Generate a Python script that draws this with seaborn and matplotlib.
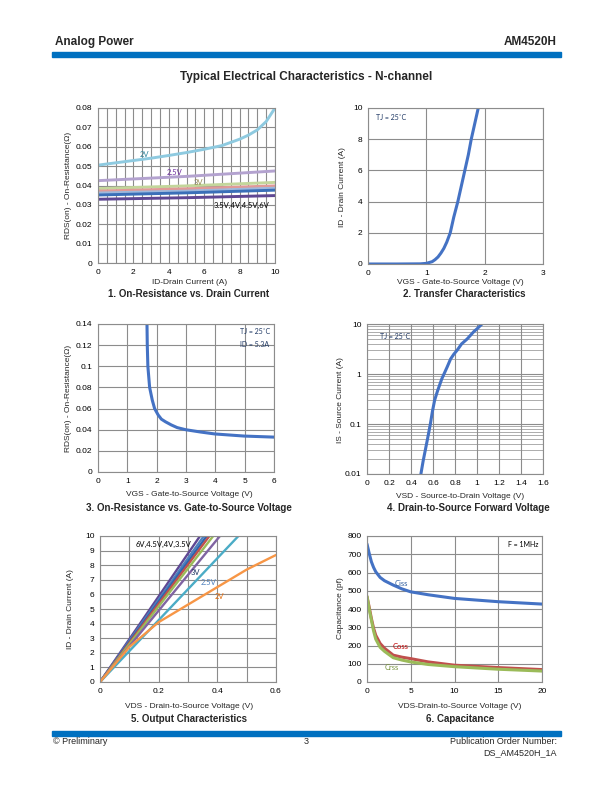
import matplotlib
matplotlib.use("Agg")
import matplotlib.pyplot as plt
import matplotlib.ticker as ticker
from matplotlib.patches import Rectangle
import seaborn as sns

# page size in pixels
W, H = 612, 792

# 1. on-resistance vs drain current
id_drain = [0, 1, 2, 3, 4, 5, 6, 7, 8, 8.5, 9, 9.5, 10]
rds_2v = [0.0505, 0.0517, 0.0529, 0.0541, 0.0555, 0.0570, 0.0587, 0.0606, 0.0639, 0.0660, 0.0687, 0.0730, 0.0800]
id_short = [0, 5, 10]
rds_25v = [0.0425, 0.0447, 0.0475]
rds_3v = [0.0384, 0.0398, 0.0416]
rds_35v = [0.0371, 0.0383, 0.0398]
rds_4v = [0.0361, 0.0371, 0.0386]
rds_45v = [0.0351, 0.0362, 0.0376]
rds_6v = [0.0329, 0.0337, 0.0348]

# 2. transfer characteristics
vgs_t = [0, 0.5, 0.9, 1.0, 1.1, 1.15, 1.2, 1.25, 1.3, 1.35, 1.41, 1.47, 1.54, 1.6, 1.66, 1.72, 1.77, 1.83, 1.89]
id_t = [0, 0, 0.01, 0.04, 0.15, 0.28, 0.45, 0.7, 1.0, 1.4, 2.0, 3.0, 4.0, 5.0, 6.0, 7.0, 8.0, 9.0, 10.0]

# 3. on-resistance vs gate voltage
vgs_r = [1.67, 1.68, 1.70, 1.76, 1.85, 1.93, 2.05, 2.16, 2.3, 2.5, 2.7, 2.99, 3.5, 3.98, 4.98, 6.0]
rds_vgs = [0.14, 0.12, 0.10, 0.08, 0.068, 0.06, 0.054, 0.05, 0.0475, 0.0445, 0.042, 0.040, 0.0378, 0.036, 0.034, 0.033]

# 4. source-drain forward voltage
vsd = [0.49, 0.51, 0.53, 0.55, 0.576, 0.595, 0.615, 0.64, 0.66, 0.68, 0.70, 0.73, 0.76, 0.79, 0.82, 0.86, 0.91, 0.97, 1.0, 1.045]
i_s = [0.01, 0.018, 0.03, 0.05, 0.1, 0.18, 0.3, 0.45, 0.6, 0.8, 1.0, 1.4, 2.0, 2.5, 3.0, 4.0, 5.0, 7.0, 8.0, 10.0]

# 5. output characteristics
vds_2v = [0, 0.1, 0.2, 0.3, 0.4, 0.5, 0.6]
id_2v = [0, 2.4, 4.1, 5.3, 6.5, 7.7, 8.7]
out_names = ["6V", "4.5V", "4V", "3.5V", "3.2V", "3V", "2.5V"]
vds_at_10a = [0.341, 0.354, 0.364, 0.373, 0.386, 0.409, 0.472]
id_end = [0, 10]

# 6. capacitance
vds_c = [0, 0.25, 0.5, 0.75, 1.0, 1.5, 2, 3, 4, 5, 7, 10, 15, 20]
ciss = [756, 705, 659, 628, 604, 573, 555, 531, 510, 494, 478, 458, 440, 427]
coss = [467, 410, 348, 295, 256, 211, 185, 147, 136, 128, 110, 92, 79, 68]
crss = [470, 400, 340, 280, 235, 190, 168, 133, 120, 110, 96, 84, 70, 60]

GRID = "#8c8c8c"
BLUE = "#4472c4"
NAVY = "#1f3864"
BAR = "#0070c0"

sns.set_style("white")
plt.rcParams['font.family'] = ['Liberation Sans', 'DejaVu Sans']
NOTE_FONT = ['Lato', 'DejaVu Sans']

fig = plt.figure(figsize=(W / 100, H / 100), dpi=100)


def px_axes(l, t, r, b):
    return fig.add_axes([l / W, 1 - b / H, (r - l) / W, (b - t) / H])


def ftext(x, y, s, **kw):
    fig.text(x / W, 1 - y / H, s, **kw)


def style_axes(ax):
    for s in ax.spines.values():
        s.set_color(GRID)
        s.set_linewidth(0.8)
    ax.tick_params(which='both', length=0, labelsize=6, pad=4, colors='black')
    ax.grid(True, which='major', color=GRID, lw=0.8)
    ax.set_axisbelow(True)
    ax.set_xlabel('')
    ax.set_ylabel('')


fmt_g = ticker.FuncFormatter(lambda v, pos: '%g' % round(v, 6))

# header / footer
ftext(55, 42, "Analog Power", fontsize=8.5, fontweight='bold', va='center')
ftext(557, 42, "AM4520H", fontsize=8.5, fontweight='bold', va='center', ha='right')
fig.patches.append(Rectangle((52 / W, 1 - 57 / H), 509 / W, 5 / H, transform=fig.transFigure,
                             color=BAR, zorder=0))
ftext(306, 77, "Typical Electrical Characteristics - N-channel", fontsize=8.5,
      fontweight='bold', va='center', ha='center')
fig.patches.append(Rectangle((52 / W, 1 - 736 / H), 509 / W, 5 / H, transform=fig.transFigure,
                             color=BAR, zorder=0))
ftext(53, 741, "© Preliminary", fontsize=6.5, va='center')
ftext(306, 741, "3", fontsize=6.5, va='center', ha='center')
ftext(557, 741, "Publication Order Number:", fontsize=6.5, va='center', ha='right')
ftext(557, 753, "DS_AM4520H_1A", fontsize=6.5, va='center', ha='right')

# ---- 1. On-Resistance vs. Drain Current
ax1 = px_axes(98, 108, 275, 263)
sns.lineplot(x=id_drain, y=rds_2v, ax=ax1, color="#8ecae0", lw=2.1)
for vals, col in [(rds_25v, "#b3a2cf"), (rds_3v, "#c3d69b"), (rds_35v, "#e09a98"),
                  (rds_4v, "#9db8dc"), (rds_45v, "#3a6fb8"), (rds_6v, "#5f4793")]:
    sns.lineplot(x=id_short, y=vals, ax=ax1, color=col, lw=2.1)
ax1.set_xlim(0, 10)
ax1.set_ylim(0, 0.08)
ax1.set_xticks(range(0, 11, 2))
ax1.xaxis.set_minor_locator(ticker.MultipleLocator(0.5))
ax1.set_yticks([i * 0.01 for i in range(9)])
ax1.yaxis.set_major_formatter(fmt_g)
style_axes(ax1)
ax1.grid(True, which='minor', axis='x', color=GRID, lw=0.8)
ax1.text(2.36, 0.0561, "2V", color="#31859c", fontsize=5.5, family=NOTE_FONT, va='center')
ax1.text(3.87, 0.0469, "2.5V", color="#7030a0", fontsize=5.5, family=NOTE_FONT, va='center')
ax1.text(5.38, 0.0415, "3V", color="#948a54", fontsize=5.5, family=NOTE_FONT, va='center')
ax1.text(6.55, 0.0297, "3.5V,4V,4.5V,6V", color="black", fontsize=5.5, family=NOTE_FONT, va='center')
ftext(190, 283, "ID-Drain Current (A)", fontsize=6, ha='center', va='center')
ftext(68, 185, "RDS(on) - On-Resistance(Ω)", fontsize=6, ha='center', va='center', rotation=90)
ftext(189, 294, "1. On-Resistance vs. Drain Current", fontsize=7, fontweight='bold', ha='center', va='center')

# ---- 2. Transfer Characteristics
ax2 = px_axes(368, 108, 543, 264)
sns.lineplot(x=vgs_t, y=id_t, ax=ax2, color=BLUE, lw=2.2)
ax2.set_xlim(0, 3)
ax2.set_ylim(0, 10)
ax2.set_xticks([0, 1, 2, 3])
ax2.set_yticks(range(0, 11, 2))
style_axes(ax2)
ax2.text(0.13, 9.42, "TJ = 25˚C", color=NAVY, fontsize=5, family=NOTE_FONT, va='center')
ftext(460, 283, "VGS - Gate-to-Source Voltage (V)", fontsize=6, ha='center', va='center')
ftext(342, 187, "ID - Drain Current (A)", fontsize=6, ha='center', va='center', rotation=90)
ftext(464, 294, "2. Transfer Characteristics", fontsize=7, fontweight='bold', ha='center', va='center')

# ---- 3. On-Resistance vs. Gate-to-Source Voltage
ax3 = px_axes(98, 324, 274, 472)
sns.lineplot(x=vgs_r, y=rds_vgs, ax=ax3, color=BLUE, lw=2.2)
ax3.set_xlim(0, 6)
ax3.set_ylim(0, 0.14)
ax3.set_xticks(range(0, 7))
ax3.set_yticks([i * 0.02 for i in range(8)])
ax3.yaxis.set_major_formatter(fmt_g)
style_axes(ax3)
ax3.text(4.83, 0.1325, "TJ = 25˚C", color=NAVY, fontsize=5, family=NOTE_FONT, va='center')
ax3.text(4.83, 0.121, "ID = 5.3A", color=NAVY, fontsize=5, family=NOTE_FONT, va='center')
ftext(189, 495, "VGS - Gate-to-Source Voltage (V)", fontsize=6, ha='center', va='center')
ftext(68, 398, "RDS(on) - On-Resistance(Ω)", fontsize=6, ha='center', va='center', rotation=90)
ftext(189, 508, "3. On-Resistance vs. Gate-to-Source Voltage", fontsize=7, fontweight='bold',
      ha='center', va='center')

# ---- 4. Drain-to-Source Forward Voltage
ax4 = px_axes(367, 324, 543, 474)
sns.lineplot(x=vsd, y=i_s, ax=ax4, color=BLUE, lw=2.2)
ax4.set_yscale('log')
ax4.set_xlim(0, 1.6)
ax4.set_ylim(0.01, 10)
ax4.set_xticks([i * 0.2 for i in range(9)])
ax4.xaxis.set_major_formatter(fmt_g)
ax4.set_yticks([0.01, 0.1, 1, 10])
ax4.yaxis.set_major_formatter(fmt_g)
ax4.yaxis.set_minor_locator(ticker.LogLocator(base=10, subs=range(2, 10)))
ax4.yaxis.set_minor_formatter(ticker.NullFormatter())
style_axes(ax4)
ax4.grid(True, which='minor', axis='y', color=GRID, lw=0.5)
ax4.text(0.12, 5.7, "TJ = 25˚C", color=NAVY, fontsize=5, family=NOTE_FONT, va='center')
ftext(460, 496, "VSD - Source-to-Drain Voltage (V)", fontsize=6, ha='center', va='center')
ftext(340, 400, "IS - Source Current (A)", fontsize=6, ha='center', va='center', rotation=90)
ftext(468, 508, "4. Drain-to-Source Forward Voltage", fontsize=7, fontweight='bold', ha='center', va='center')

# ---- 5. Output Characteristics
ax5 = px_axes(100, 536, 276, 682)
out_colors = ["#5f4793", "#4f81bd", "#2e64ae", "#c0504d", "#9bbb59", "#8064a2", "#4bacc6"]
for name, xend, col in zip(out_names, vds_at_10a, out_colors):
    sns.lineplot(x=[0, xend], y=id_end, ax=ax5, color=col, lw=1.7)
sns.lineplot(x=vds_2v, y=id_2v, ax=ax5, color="#f79646", lw=1.7)
ax5.set_xlim(0, 0.6)
ax5.set_ylim(0, 10)
ax5.set_xticks([0, 0.2, 0.4, 0.6])
ax5.xaxis.set_major_formatter(fmt_g)
ax5.xaxis.set_minor_locator(ticker.MultipleLocator(0.1))
ax5.set_yticks(range(0, 11))
style_axes(ax5)
ax5.grid(True, which='minor', axis='x', color=GRID, lw=0.8)
ax5.text(0.123, 9.45, "6V,4.5V,4V,3.5V", color="black", fontsize=5.5, family=NOTE_FONT, va='center')
ax5.text(0.31, 7.48, "3V", color=NAVY, fontsize=5.5, family=NOTE_FONT, va='center')
ax5.text(0.342, 6.8, "2.5V", color="#4f81bd", fontsize=5.5, family=NOTE_FONT, va='center')
ax5.text(0.39, 5.84, "2V", color="#e46c0a", fontsize=5.5, family=NOTE_FONT, va='center')
ftext(189, 706, "VDS - Drain-to-Source Voltage (V)", fontsize=6, ha='center', va='center')
ftext(70, 609, "ID - Drain Current (A)", fontsize=6, ha='center', va='center', rotation=90)
ftext(189, 719, "5. Output Characteristics", fontsize=7, fontweight='bold', ha='center', va='center')

# ---- 6. Capacitance
ax6 = px_axes(367, 536, 542, 682)
sns.lineplot(x=vds_c, y=ciss, ax=ax6, color=BLUE, lw=2.2)
sns.lineplot(x=vds_c, y=coss, ax=ax6, color="#c0504d", lw=2.2)
sns.lineplot(x=vds_c, y=crss, ax=ax6, color="#9bbb59", lw=2.2)
ax6.set_xlim(0, 20)
ax6.set_ylim(0, 800)
ax6.set_xticks(range(0, 21, 5))
ax6.set_yticks(range(0, 801, 100))
style_axes(ax6)
ax6.text(16.1, 751, "F = 1MHz", color="black", fontsize=5, family=NOTE_FONT, va='center')
ax6.text(3.16, 540, "Ciss", color="#2e5c9e", fontsize=5.5, family=NOTE_FONT, va='center')
ax6.text(2.9, 192, "Coss", color="#c00000", fontsize=5.5, family=NOTE_FONT, va='center')
ax6.text(2.0, 82, "Crss", color="#76923c", fontsize=5.5, family=NOTE_FONT, va='center')
ftext(460, 707, "VDS-Drain-to-Source Voltage (V)", fontsize=6, ha='center', va='center')
ftext(340, 608, "Capacitance (pf)", fontsize=6, ha='center', va='center', rotation=90)
ftext(460, 719, "6. Capacitance", fontsize=7, fontweight='bold', ha='center', va='center')

fig.savefig("out.png", dpi=100)
